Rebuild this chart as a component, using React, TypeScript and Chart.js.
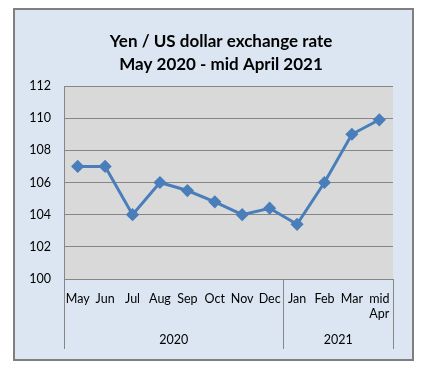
import React, { useEffect, useRef } from "react";
import { Chart, registerables } from "chart.js";

Chart.register(...registerables);

const titleLines = ["Yen / US dollar exchange rate", "May 2020 - mid April 2021"];
const months: (string | string[])[] = ["May", "Jun", "Jul", "Aug", "Sep", "Oct", "Nov", "Dec", "Jan", "Feb", "Mar", ["mid", "Apr"]];
const rates = [107, 107, 104, 106, 105.5, 104.8, 104, 104.4, 103.4, 106, 109, 109.9];
const yearGroups = ["2020", "2021"];
const groupSizes = [8, 4];
const yMin = 100;
const yMax = 112;
const yStep = 2;

const FONT = "Lato, 'Open Sans', sans-serif";

const decorPlugin = {
  id: "decor",
  beforeDraw(chart: any) {
    const ctx = chart.ctx;
    const { left, top, right, bottom } = chart.chartArea;
    ctx.save();
    ctx.fillStyle = "#ffffff";
    ctx.fillRect(0, 0, chart.width, chart.height);
    ctx.fillStyle = "#dce6f2";
    ctx.fillRect(14, 9, 399, 351);
    ctx.strokeStyle = "#7f7f7f";
    ctx.lineWidth = 2;
    ctx.strokeRect(14, 9, 399, 351);
    ctx.fillStyle = "#d9d9d9";
    ctx.fillRect(left, top, right - left, bottom - top);
    ctx.restore();
  },
  afterDraw(chart: any) {
    const ctx = chart.ctx;
    const x = chart.scales.x;
    const { bottom } = chart.chartArea;
    ctx.save();
    const bounds: number[] = [];
    let idx = 0;
    bounds.push(x.left);
    groupSizes.forEach((n) => {
      idx += n;
      if (idx < months.length) {
        bounds.push((x.getPixelForValue(idx - 1) + x.getPixelForValue(idx)) / 2);
      } else {
        bounds.push(x.right);
      }
    });
    ctx.strokeStyle = "#868686";
    ctx.lineWidth = 1;
    bounds.forEach((b) => {
      const bx = Math.round(b) + 0.5;
      ctx.beginPath();
      ctx.moveTo(bx, bottom);
      ctx.lineTo(bx, bottom + 70);
      ctx.stroke();
    });
    ctx.fillStyle = "#000000";
    ctx.font = `12.5px ${FONT}`;
    ctx.textAlign = "center";
    ctx.textBaseline = "middle";
    yearGroups.forEach((yr, g) => {
      ctx.fillText(yr, (bounds[g] + bounds[g + 1]) / 2, bottom + 61);
    });
    ctx.font = `bold 17px ${FONT}`;
    ctx.textBaseline = "alphabetic";
    titleLines.forEach((t, i) => {
      ctx.fillText(t, 221, 47 + i * 23);
    });
    ctx.restore();
  },
};

export default function App() {
  const ref = useRef<HTMLCanvasElement>(null);
  useEffect(() => {
    if (!ref.current) return;
    const chart = new Chart(ref.current, {
      type: "line",
      data: {
        labels: months,
        datasets: [
          {
            data: rates,
            borderColor: "#4a7ebb",
            backgroundColor: "#4a7ebb",
            borderWidth: 3,
            pointStyle: "rectRot",
            pointRadius: 4.5,
            pointBackgroundColor: "#4a7ebb",
            pointBorderColor: "#4a7ebb",
            tension: 0,
          },
        ],
      },
      options: {
        animation: false,
        responsive: false,
        layout: { padding: { left: 20, right: 36, top: 86, bottom: 0 } },
        plugins: { legend: { display: false }, title: { display: false }, tooltip: { enabled: false } },
        scales: {
          x: {
            offset: true,
            grid: { display: false },
            border: { display: true, color: "#868686" },
            ticks: {
              autoSkip: false,
              maxRotation: 0,
              minRotation: 0,
              padding: 4,
              color: "#000000",
              font: { family: FONT, size: 12.5, lineHeight: 1.2 },
            },
            afterFit: (s: any) => {
              s.height = 96;
            },
          },
          y: {
            min: yMin,
            max: yMax,
            ticks: {
              stepSize: yStep,
              padding: 13,
              color: "#000000",
              font: { family: FONT, size: 12.5 },
            },
            grid: { color: "#868686", drawTicks: false },
            border: { display: true, color: "#868686" },
            afterFit: (s: any) => {
              s.width = 44;
            },
          },
        },
      },
      plugins: [decorPlugin],
    });
    return () => chart.destroy();
  }, []);
  return (
    <div style={{ position: "absolute", left: 0, top: 0, width: 429, height: 375 }}>
      <canvas ref={ref} width={429} height={375} style={{ display: "block" }} />
    </div>
  );
}
